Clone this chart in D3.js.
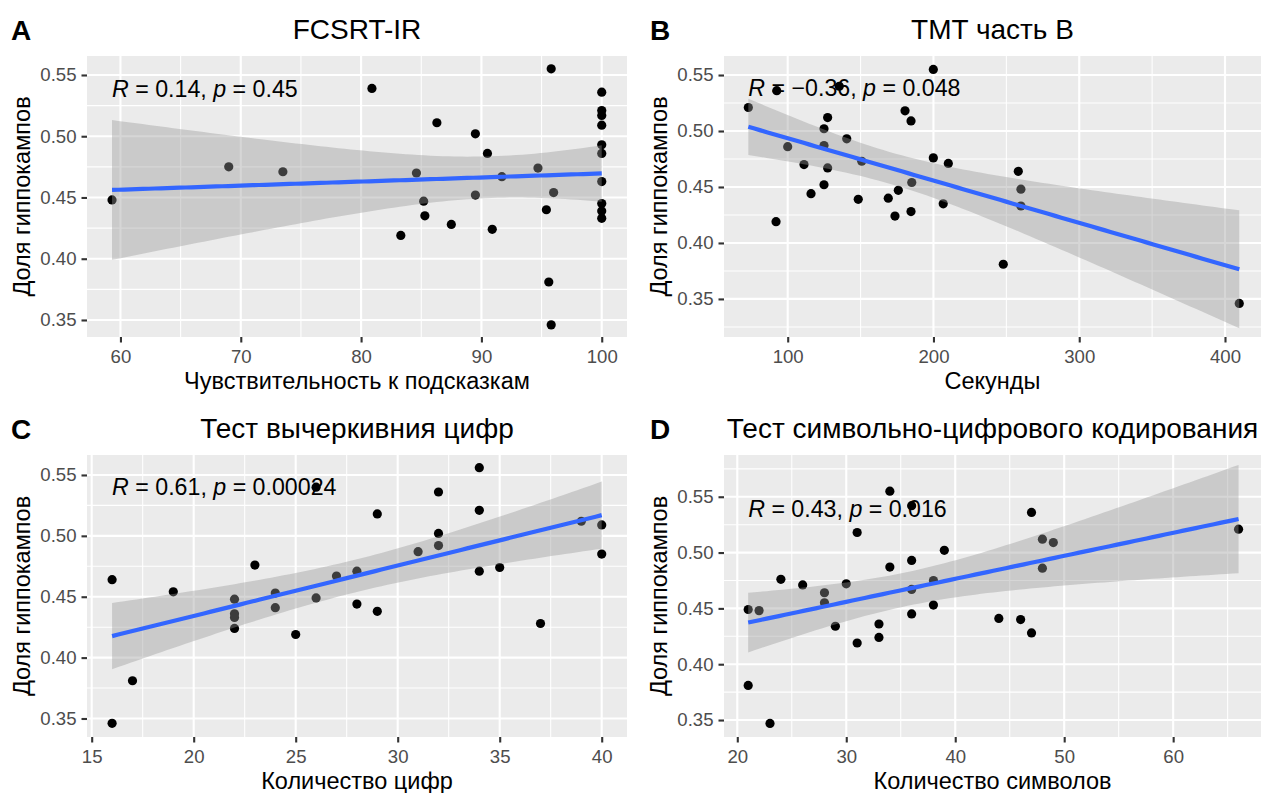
<!DOCTYPE html>
<html>
<head>
<meta charset="utf-8">
<script src="https://cdn.jsdelivr.net/npm/d3@7"></script>
<style>
  html, body { margin: 0; padding: 0; background: #ffffff; }
  svg { display: block; font-family: "Liberation Sans", Arial, Helvetica, sans-serif; }
</style>
</head>
<body>
<svg id="chart" width="1263" height="793"></svg>
<script>
// ---------------- DATA ----------------
const tags = ["A", "B", "C", "D"];
const titles = ["FCSRT-IR", "TMT часть B", "Тест вычеркивния цифр", "Тест символьно-цифрового кодирования"];
const xTitles = ["Чувствительность к подсказкам", "Секунды", "Количество цифр", "Количество символов"];
const yTitle = "Доля гиппокампов";
const rValues = ["0.14", "\u22120.36", "0.61", "0.43"];
const pValues = ["0.45", "0.048", "0.00024", "0.016"];

// Panel A: FCSRT-IR
const aX = [59.3, 69.0, 73.5, 80.9, 95.8, 100, 100, 100, 100, 100, 100, 100, 100, 100, 100,
            86.3, 89.5, 90.5, 84.6, 91.7, 94.7, 85.2, 89.5, 96.0, 85.3, 95.4, 87.5, 90.9, 83.3, 95.6, 95.8];
const aY = [0.448, 0.475, 0.471, 0.539, 0.555, 0.536, 0.521, 0.517, 0.509, 0.493, 0.486, 0.463, 0.445, 0.439, 0.433,
            0.511, 0.502, 0.486, 0.470, 0.467, 0.474, 0.447, 0.452, 0.454, 0.435, 0.440, 0.428, 0.424, 0.419, 0.381, 0.346];

// Panel B: TMT part B
const bX = [73.0, 92.5, 135.4, 199.9, 100, 111.2, 116, 92, 124.9, 127.4, 124.9, 127.4, 124.9, 140.5, 150.8, 148.4,
            169, 173.6, 175.9, 180.5, 184.6, 184.6, 185.1, 199.9, 210.2, 206.7, 258.2, 260, 260, 247.9, 409.8];
const bY = [0.521, 0.536, 0.540, 0.555, 0.486, 0.470, 0.444, 0.419, 0.502, 0.512, 0.487, 0.467, 0.452, 0.493, 0.473, 0.439,
            0.440, 0.424, 0.447, 0.518, 0.509, 0.428, 0.454, 0.476, 0.471, 0.435, 0.464, 0.448, 0.433, 0.381, 0.346];

// Panel C: digit cancellation
const cX = [16, 16, 17, 19, 22, 22, 22, 22, 23, 24, 24, 25, 26, 26, 27, 28, 28, 29, 29, 31, 32, 32, 32, 34, 34, 34, 35, 37, 39, 40, 40];
const cY = [0.464, 0.346, 0.381, 0.454, 0.448, 0.436, 0.433, 0.424, 0.476, 0.453, 0.441, 0.419, 0.449, 0.540, 0.467, 0.471,
            0.444, 0.518, 0.438, 0.487, 0.502, 0.492, 0.536, 0.556, 0.521, 0.471, 0.474, 0.428, 0.512, 0.509, 0.485];

// Panel D: symbol-digit coding
const dX = [21, 22, 21, 23, 24, 26, 28, 28, 29, 30, 31, 31, 33, 33, 34, 34, 36, 36, 36, 36, 38, 38, 39, 44, 46, 47, 47, 48, 49, 48, 66];
const dY = [0.449, 0.448, 0.381, 0.347, 0.476, 0.471, 0.464, 0.455, 0.434, 0.472, 0.518, 0.419, 0.436, 0.424, 0.555, 0.487,
            0.493, 0.467, 0.445, 0.542, 0.475, 0.453, 0.502, 0.441, 0.440, 0.428, 0.536, 0.512, 0.509, 0.486, 0.521];

// Axis ticks and domains
const aXTicks = [60, 70, 80, 90, 100];
const bXTicks = [100, 200, 300, 400];
const cXTicks = [15, 20, 25, 30, 35, 40];
const dXTicks = [20, 30, 40, 50, 60];
const yTicks = [0.35, 0.40, 0.45, 0.50, 0.55];
const aXDomain = [57.22, 102.1], aYDomain = [0.3361, 0.5655];
const bXDomain = [56.3, 424.7],  bYDomain = [0.316, 0.567];
const cXDomain = [14.77, 41.24], cYDomain = [0.3348, 0.5664];
const dXDomain = [18.78, 68.06], dYDomain = [0.3348, 0.5874];

// ---------------- LAYOUT ----------------
const svg = d3.select("#chart");
const colL = [87, 627], colR = [724, 1261];
const rowT = [56, 337], rowB = [455, 737];
const FS = { title: 28, axis: 23.5, tick: 18.6, label: 23.2, tag: 28 };

const panels = [
  { xs: aX, ys: aY, xd: aXDomain, yd: aYDomain, xt: aXTicks, cols: colL, rows: rowT, tagX: 11 },
  { xs: bX, ys: bY, xd: bXDomain, yd: bYDomain, xt: bXTicks, cols: colR, rows: rowT, tagX: 650 },
  { xs: cX, ys: cY, xd: cXDomain, yd: cYDomain, xt: cXTicks, cols: colL, rows: rowB, tagX: 11 },
  { xs: dX, ys: dY, xd: dXDomain, yd: dYDomain, xt: dXTicks, cols: colR, rows: rowB, tagX: 650 }
];

function minorBreaks(majors, domain) {
  const step = majors[1] - majors[0];
  const out = [];
  const ext = [majors[0] - step].concat(majors, [majors[majors.length - 1] + step]);
  for (let i = 0; i < ext.length - 1; i++) {
    const m = (ext[i] + ext[i + 1]) / 2;
    if (m >= domain[0] && m <= domain[1]) out.push(m);
  }
  return out;
}

function tQuant975(df) {
  const z = 1.959964;
  return z + (z ** 3 + z) / (4 * df) + (5 * z ** 5 + 16 * z ** 3 + 3 * z) / (96 * df * df);
}

function linFit(xs, ys) {
  const n = xs.length;
  const mx = d3.mean(xs), my = d3.mean(ys);
  let sxx = 0, sxy = 0;
  for (let i = 0; i < n; i++) { sxx += (xs[i] - mx) ** 2; sxy += (xs[i] - mx) * (ys[i] - my); }
  const b = sxy / sxx, a = my - b * mx;
  let sse = 0;
  for (let i = 0; i < n; i++) sse += (ys[i] - a - b * xs[i]) ** 2;
  const s = Math.sqrt(sse / (n - 2));
  const t = tQuant975(n - 2);
  const [x0, x1] = d3.extent(xs);
  return d3.range(81).map(k => {
    const x = x0 + (x1 - x0) * k / 80;
    const yh = a + b * x;
    const se = s * Math.sqrt(1 / n + (x - mx) ** 2 / sxx);
    return { x, y: yh, lo: yh - t * se, hi: yh + t * se };
  });
}

panels.forEach((p, i) => {
  const [L, R] = p.cols, [T, B] = p.rows;
  const x = d3.scaleLinear().domain(p.xd).range([L, R]);
  const y = d3.scaleLinear().domain(p.yd).range([B, T]);
  const g = svg.append("g");

  g.append("rect").attr("x", L).attr("y", T).attr("width", R - L).attr("height", B - T).attr("fill", "#EBEBEB");

  const xMinor = minorBreaks(p.xt, p.xd), yMinor = minorBreaks(yTicks, p.yd);
  g.selectAll(".xmin").data(xMinor).join("line")
    .attr("x1", d => x(d)).attr("x2", d => x(d)).attr("y1", T).attr("y2", B)
    .attr("stroke", "#ffffff").attr("stroke-width", 1.07);
  g.selectAll(".ymin").data(yMinor).join("line")
    .attr("x1", L).attr("x2", R).attr("y1", d => y(d)).attr("y2", d => y(d))
    .attr("stroke", "#ffffff").attr("stroke-width", 1.07);
  g.selectAll(".xmaj").data(p.xt).join("line")
    .attr("x1", d => x(d)).attr("x2", d => x(d)).attr("y1", T).attr("y2", B)
    .attr("stroke", "#ffffff").attr("stroke-width", 2.13);
  g.selectAll(".ymaj").data(yTicks).join("line")
    .attr("x1", L).attr("x2", R).attr("y1", d => y(d)).attr("y2", d => y(d))
    .attr("stroke", "#ffffff").attr("stroke-width", 2.13);

  g.selectAll(".pt").data(p.xs.map((v, k) => [v, p.ys[k]])).join("circle")
    .attr("cx", d => x(d[0])).attr("cy", d => y(d[1])).attr("r", 4.6).attr("fill", "#000000");

  const fit = linFit(p.xs, p.ys);
  g.append("path").datum(fit)
    .attr("d", d3.area().x(d => x(d.x)).y0(d => y(d.lo)).y1(d => y(d.hi)))
    .attr("fill", "#999999").attr("fill-opacity", 0.4);
  g.append("path").datum(fit)
    .attr("d", d3.line().x(d => x(d.x)).y(d => y(d.y)))
    .attr("fill", "none").attr("stroke", "#3366FF").attr("stroke-width", 4.2);

  const lab = g.append("text")
    .attr("x", x(d3.min(p.xs))).attr("y", y(d3.max(p.ys) - 0.016)).attr("dy", "0.36em")
    .attr("font-size", FS.label).attr("fill", "#000000");
  lab.append("tspan").attr("font-style", "italic").text("R");
  lab.append("tspan").text(" = " + rValues[i] + ", ");
  lab.append("tspan").attr("font-style", "italic").text("p");
  lab.append("tspan").text(" = " + pValues[i]);

  const xAxis = d3.axisBottom(x).tickValues(p.xt).tickSize(5.5).tickPadding(5).tickFormat(d3.format("d"));
  const yAxis = d3.axisLeft(y).tickValues(yTicks).tickSize(5.5).tickPadding(5).tickFormat(d3.format(".2f"));
  const gx = g.append("g").attr("transform", `translate(0,${B})`).call(xAxis);
  const gy = g.append("g").attr("transform", `translate(${L},0)`).call(yAxis);
  [gx, gy].forEach(ax => {
    ax.select(".domain").remove();
    ax.selectAll(".tick line").attr("stroke", "#333333").attr("stroke-width", 2.1);
    ax.selectAll(".tick text").attr("fill", "#4D4D4D").attr("font-size", FS.tick)
      .attr("font-family", "'Liberation Sans', Arial, Helvetica, sans-serif");
  });
  gx.selectAll(".tick text").attr("dy", null).attr("y", 26).attr("dominant-baseline", "auto");

  g.append("text").attr("x", (L + R) / 2).attr("y", B + 52).attr("text-anchor", "middle")
    .attr("font-size", FS.axis).attr("fill", "#000000").text(xTitles[i]);
  g.append("text").attr("transform", `translate(${L - 57},${(T + B) / 2}) rotate(-90)`)
    .attr("text-anchor", "middle").attr("font-size", FS.axis).attr("fill", "#000000").text(yTitle);

  g.append("text").attr("x", (L + R) / 2).attr("y", T - 17).attr("text-anchor", "middle")
    .attr("font-size", FS.title).attr("fill", "#000000").text(titles[i]);
  g.append("text").attr("x", p.tagX).attr("y", T - 16).attr("font-size", FS.tag).attr("font-weight", "bold")
    .attr("fill", "#000000").text(tags[i]);
});
</script>
</body>
</html>
